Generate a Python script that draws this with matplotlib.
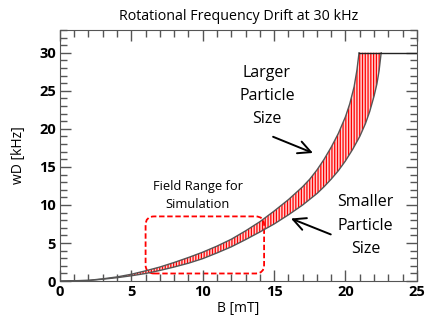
import numpy as np
import matplotlib
matplotlib.use("Agg")
import matplotlib.pyplot as plt
from matplotlib.patches import FancyBboxPatch

plt.rcParams['font.family'] = ['Open Sans', 'DejaVu Sans']
plt.rcParams['hatch.linewidth'] = 0.9
plt.rcParams['hatch.color'] = 'red'

# curvas: B [mT] y wD [kHz]
B_large = [0, 2, 3, 4, 5, 6, 7, 8, 9, 10, 11, 12, 13, 14, 15, 16, 17, 17.5,
           18, 18.5, 19, 19.5, 20, 20.3, 20.6, 20.8, 20.95]
wD_large = [0, 0.1, 0.3, 0.55, 0.9, 1.35, 1.85, 2.45, 3.1, 3.8, 4.6, 5.5, 6.6,
            7.8, 9.2, 10.7, 12.4, 13.4, 14.6, 16.0, 17.6, 19.4, 21.6, 23.3,
            25.5, 27.7, 30]
B_small = [0, 2, 3, 4, 5, 6, 7, 8, 9, 10, 11, 12, 13, 14, 15, 16, 17, 18,
           18.5, 19, 19.5, 20, 20.5, 21, 21.4, 21.7, 22.0, 22.2, 22.35, 22.5]
wD_small = [0, 0.08, 0.25, 0.45, 0.7, 1.0, 1.4, 1.85, 2.35, 2.95, 3.7, 4.5,
            5.45, 6.45, 7.5, 8.7, 10.0, 11.5, 12.4, 13.4, 14.5, 15.8, 17.3,
            19.0, 20.7, 22.3, 24.3, 25.9, 27.6, 30]
B_cap = [20.95, 25]       # tramo saturado a 30 kHz
wD_cap = [30, 30]
field_range = [6, 14.3]   # B [mT]
field_wD = [1.0, 8.5]     # kHz

fig = plt.figure(figsize=(4.28, 3.22), dpi=100)
ax = fig.add_axes([0.140, 0.127, 0.834, 0.780])

# banda entre ambos tamaños de partícula
band_x = B_large + B_small[::-1]
band_y = wD_large + wD_small[::-1]
ax.fill(band_x, band_y, facecolor='#ffd0d0', edgecolor='red',
        hatch='||||||', linewidth=0)
ax.plot(B_large, wD_large, color='#555555', lw=1.0)
ax.plot(B_small, wD_small, color='#555555', lw=1.0)
ax.plot(B_cap, wD_cap, color='#222222', lw=1.0)

# caja de rango de campo
box = FancyBboxPatch((field_range[0], field_wD[0]),
                     field_range[1] - field_range[0], field_wD[1] - field_wD[0],
                     boxstyle='round,pad=0,rounding_size=0.6',
                     mutation_aspect=1.875, fill=False, edgecolor='red',
                     linestyle=(0, (3, 1.5)), lw=1.3)
ax.add_patch(box)

ax.set_xlim(0, 25)
ax.set_ylim(0, 33)
ax.set_xticks([0, 5, 10, 15, 20, 25])
ax.set_yticks([0, 5, 10, 15, 20, 25, 30])
ax.set_xticks(np.arange(0, 26, 1), minor=True)
ax.set_yticks(np.arange(0, 34, 1), minor=True)
ax.tick_params(which='both', direction='in', top=True, right=True,
               color='#555555', width=1.0)
ax.tick_params(which='major', length=8, labelsize=10.5, pad=3)
ax.tick_params(which='minor', length=5)
for lab in ax.get_xticklabels() + ax.get_yticklabels():
    lab.set_fontweight('bold')
for s in ax.spines.values():
    s.set_color('#555555')

ax.set_title("Rotational Frequency Drift at 30 kHz", fontsize=10.3, pad=7)
ax.set_xlabel("B [mT]", fontsize=10, labelpad=1)
ax.set_ylabel("wD [kHz]", fontsize=10)
ax.yaxis.set_label_coords(-0.095, 0.5)

ax.text(14.5, 24.3, "Larger\nParticle\nSize", ha='center', va='center',
        fontsize=11.5, linespacing=1.6)
ax.text(21.4, 7.3, "Smaller\nParticle\nSize", ha='center', va='center',
        fontsize=11.5, linespacing=1.6)
ax.text(9.64, 11.2, "Field Range for\nSimulation", ha='center', va='center',
        fontsize=9.3, linespacing=1.5)

ax.annotate("", xy=(17.9, 16.7), xytext=(14.75, 19.1),
            arrowprops=dict(arrowstyle='->,head_length=0.9,head_width=0.45',
                            color='black', lw=1.4))
ax.annotate("", xy=(16.0, 8.36), xytext=(19.15, 6.0),
            arrowprops=dict(arrowstyle='->,head_length=0.9,head_width=0.45',
                            color='black', lw=1.4))

fig.savefig("out.png", dpi=100)
